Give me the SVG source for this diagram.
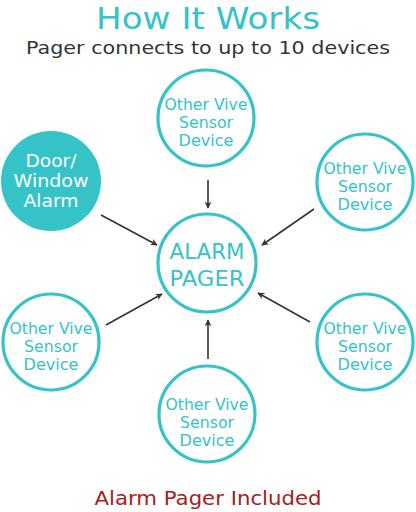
<svg xmlns="http://www.w3.org/2000/svg" width="416" height="512" viewBox="0 0 416 512">
<defs>
<marker id="ah" viewBox="0 0 10 10" refX="9" refY="5" markerWidth="7" markerHeight="7" orient="auto" markerUnits="userSpaceOnUse">
<path d="M0,0 L10,5 L0,10 L3,5 Z" fill="#333"/>
</marker>
<style>
.ring{fill:#fff;stroke:#35c3c7;stroke-width:3.2}
.fill{fill:#35c3c7}
.t{font-family:"DejaVu Sans","Noto Sans",sans-serif;text-anchor:middle}
.dev{font-size:15px;fill:#35c3c7}
.wh{font-size:17px;fill:#fff}
.ctr{font-size:22px;fill:#35c3c7}
.c{stroke:#333;stroke-width:1.6;fill:none;marker-end:url(#ah)}
</style>
</defs>
<rect width="416" height="512" fill="#fff"/>
<text class="t" x="208" y="29" font-size="31" fill="#35c3c7" textLength="224" lengthAdjust="spacingAndGlyphs">How It Works</text>
<text class="t" x="208" y="54" font-size="18" fill="#333" textLength="364" lengthAdjust="spacingAndGlyphs">Pager connects to up to 10 devices</text>
<g id="connectors">
<line class="c" x1="208" y1="180" x2="208" y2="208"/>
<line class="c" x1="101" y1="215" x2="157" y2="245"/>
<line class="c" x1="314" y1="209" x2="262" y2="245"/>
<line class="c" x1="106" y1="325" x2="162" y2="294"/>
<line class="c" x1="310" y1="322" x2="258" y2="293"/>
<line class="c" x1="208" y1="359" x2="208" y2="320"/>
</g>
<g id="top">
<circle class="ring" cx="206" cy="118" r="48"/>
<text class="t dev" x="206" y="110" textLength="83" lengthAdjust="spacingAndGlyphs">Other Vive</text>
<text class="t dev" x="206" y="128" textLength="54" lengthAdjust="spacingAndGlyphs">Sensor</text>
<text class="t dev" x="206" y="146" textLength="55" lengthAdjust="spacingAndGlyphs">Device</text>
</g>
<g id="door">
<circle class="fill" cx="51" cy="181" r="50"/>
<text class="t wh" x="51" y="167" textLength="51" lengthAdjust="spacingAndGlyphs">Door/</text>
<text class="t wh" x="51" y="187" textLength="75" lengthAdjust="spacingAndGlyphs">Window</text>
<text class="t wh" x="51" y="207" textLength="55" lengthAdjust="spacingAndGlyphs">Alarm</text>
</g>
<g id="topright">
<circle class="ring" cx="365" cy="182" r="48"/>
<text class="t dev" x="365" y="174" textLength="83" lengthAdjust="spacingAndGlyphs">Other Vive</text>
<text class="t dev" x="365" y="192" textLength="54" lengthAdjust="spacingAndGlyphs">Sensor</text>
<text class="t dev" x="365" y="210" textLength="55" lengthAdjust="spacingAndGlyphs">Device</text>
</g>
<g id="pager">
<circle class="ring" cx="207" cy="263" r="49"/>
<text class="t ctr" x="207" y="259" textLength="75" lengthAdjust="spacingAndGlyphs">ALARM</text>
<text class="t ctr" x="207" y="286" textLength="75" lengthAdjust="spacingAndGlyphs">PAGER</text>
</g>
<g id="bottomleft">
<circle class="ring" cx="51" cy="342" r="48"/>
<text class="t dev" x="51" y="334" textLength="83" lengthAdjust="spacingAndGlyphs">Other Vive</text>
<text class="t dev" x="51" y="352" textLength="54" lengthAdjust="spacingAndGlyphs">Sensor</text>
<text class="t dev" x="51" y="370" textLength="55" lengthAdjust="spacingAndGlyphs">Device</text>
</g>
<g id="bottomright">
<circle class="ring" cx="365" cy="342" r="48"/>
<text class="t dev" x="365" y="334" textLength="83" lengthAdjust="spacingAndGlyphs">Other Vive</text>
<text class="t dev" x="365" y="352" textLength="54" lengthAdjust="spacingAndGlyphs">Sensor</text>
<text class="t dev" x="365" y="370" textLength="55" lengthAdjust="spacingAndGlyphs">Device</text>
</g>
<g id="bottom">
<circle class="ring" cx="207" cy="414" r="48"/>
<text class="t dev" x="207" y="410" textLength="83" lengthAdjust="spacingAndGlyphs">Other Vive</text>
<text class="t dev" x="207" y="428" textLength="54" lengthAdjust="spacingAndGlyphs">Sensor</text>
<text class="t dev" x="207" y="446" textLength="55" lengthAdjust="spacingAndGlyphs">Device</text>
</g>
<text class="t" x="208" y="505" font-size="20" fill="#a51d1d" textLength="227" lengthAdjust="spacingAndGlyphs">Alarm Pager Included</text>
</svg>
